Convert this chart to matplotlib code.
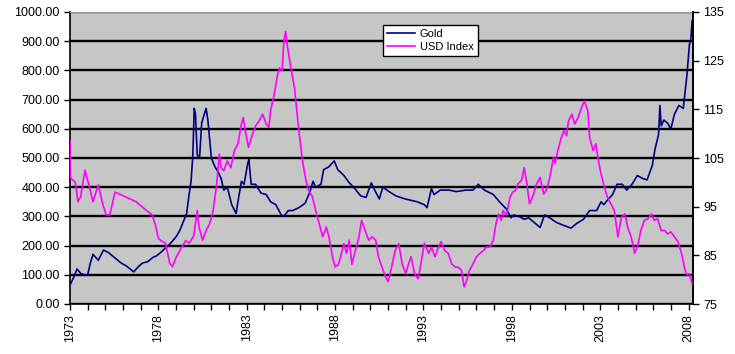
import matplotlib
matplotlib.use("Agg")
import matplotlib.pyplot as plt
from matplotlib.ticker import FormatStrFormatter, MultipleLocator, FixedLocator

plt.rcParams['font.family'] = ['Liberation Sans', 'DejaVu Sans']

gold_years = [1973.0, 1973.2, 1973.4, 1973.6, 1973.8, 1974.0, 1974.15, 1974.3, 1974.6, 1974.9,
              1975.2, 1975.6, 1975.9, 1976.2, 1976.6, 1976.9, 1977.1, 1977.4, 1977.7, 1977.9,
              1978.2, 1978.45, 1978.65, 1979.0, 1979.2, 1979.4, 1979.6, 1979.75, 1979.85, 1979.95,
              1980.03, 1980.1, 1980.2, 1980.33, 1980.45, 1980.55, 1980.7, 1980.8, 1981.0, 1981.2,
              1981.4, 1981.55, 1981.7, 1981.9, 1982.15, 1982.4, 1982.5, 1982.7, 1982.85, 1983.05,
              1983.12, 1983.25, 1983.5, 1983.8, 1984.1, 1984.35, 1984.65, 1984.95, 1985.1, 1985.35,
              1985.6, 1985.95, 1986.3, 1986.55, 1986.75, 1986.9, 1987.2, 1987.35, 1987.65, 1987.95,
              1988.15, 1988.5, 1988.8, 1989.05, 1989.45, 1989.75, 1990.05, 1990.2, 1990.5, 1990.7,
              1991.05, 1991.45, 1991.95, 1992.3, 1992.65, 1993.05, 1993.2, 1993.45, 1993.6, 1993.95,
              1994.45, 1994.85, 1995.4, 1995.8, 1996.1, 1996.45, 1996.95, 1997.3, 1997.7, 1997.95,
              1998.1, 1998.4, 1998.7, 1998.95, 1999.35, 1999.6, 1999.85, 2000.15, 2000.5, 2000.9,
              2001.35, 2001.65, 2002.05, 2002.4, 2002.8, 2003.05, 2003.2, 2003.4, 2003.7, 2003.95,
              2004.25, 2004.5, 2004.8, 2005.1, 2005.4, 2005.65, 2005.95, 2006.1, 2006.3, 2006.38,
              2006.45, 2006.6, 2006.8, 2007.0, 2007.2, 2007.45, 2007.7, 2007.9, 2008.05, 2008.12,
              2008.2]
gold_values = [65, 90, 120, 105, 100, 100, 140, 170, 150, 185,
               175, 155, 140, 130, 110, 130, 140, 145, 160, 165,
               180, 195, 205, 230, 250, 280, 310, 380, 420, 510,
               670, 650, 510, 500, 620, 640, 670, 630, 500, 470,
               450, 430, 390, 400, 340, 310, 350, 420, 410, 480,
               495, 410, 410, 380, 375, 350, 340, 305, 300, 320,
               320, 330, 345, 380, 420, 400, 410, 460, 470, 490,
               460, 440, 415, 400, 370, 365, 415, 395, 360, 400,
               385, 370, 360, 355, 350, 340, 330, 395, 375, 390,
               390, 385, 390, 390, 410, 390, 375, 350, 325, 295,
               305, 300, 290, 295, 275, 262, 305, 295, 280, 270,
               260, 275, 290, 320, 320, 350, 340, 355, 375, 410,
               410, 390, 410, 440, 430, 425, 475, 530, 580, 680,
               610, 630, 620, 600, 650, 680, 670, 780, 890, 900,
               970]

usd_years = [1973.0, 1973.02, 1973.15, 1973.3, 1973.45, 1973.6, 1973.85, 1974.1, 1974.3, 1974.6,
             1974.85, 1975.05, 1975.25, 1975.55, 1975.85, 1976.15, 1976.45, 1976.75, 1977.0, 1977.4,
             1977.65, 1977.85, 1978.0, 1978.15, 1978.4, 1978.65, 1978.8, 1979.0, 1979.3, 1979.55,
             1979.75, 1980.0, 1980.2, 1980.3, 1980.5, 1980.7, 1980.9, 1981.1, 1981.3, 1981.45,
             1981.55, 1981.7, 1981.9, 1982.1, 1982.3, 1982.5, 1982.7, 1982.8, 1982.95, 1983.1,
             1983.3, 1983.5, 1983.7, 1983.9, 1984.1, 1984.25, 1984.35, 1984.55, 1984.75, 1984.85,
             1985.0, 1985.1, 1985.2, 1985.3, 1985.5, 1985.7, 1985.8, 1985.95, 1986.15, 1986.35,
             1986.5, 1986.7, 1986.9, 1987.1, 1987.3, 1987.5, 1987.65, 1987.85, 1988.0, 1988.2,
             1988.5, 1988.65, 1988.8, 1988.95, 1989.15, 1989.35, 1989.5, 1989.7, 1989.9, 1990.1,
             1990.3, 1990.45, 1990.65, 1990.85, 1991.0, 1991.2, 1991.4, 1991.6, 1991.8, 1992.0,
             1992.15, 1992.3, 1992.5, 1992.7, 1992.85, 1993.05, 1993.3, 1993.45, 1993.65, 1993.85,
             1994.0, 1994.2, 1994.4, 1994.6, 1994.8, 1994.95, 1995.15, 1995.3, 1995.45, 1995.6,
             1995.8, 1996.0, 1996.2, 1996.4, 1996.55, 1996.75, 1996.95, 1997.1, 1997.25, 1997.4,
             1997.5, 1997.7, 1997.9, 1998.05, 1998.2, 1998.35, 1998.55, 1998.7, 1998.85, 1999.0,
             1999.2, 1999.4, 1999.6, 1999.8, 1999.95, 2000.15, 2000.35, 2000.45, 2000.6, 2000.8,
             2000.95, 2001.1, 2001.2, 2001.4, 2001.55, 2001.75, 2001.95, 2002.1, 2002.3, 2002.4,
             2002.6, 2002.75, 2002.9, 2003.05, 2003.25, 2003.4, 2003.6, 2003.8, 2004.0, 2004.2,
             2004.4, 2004.55, 2004.75, 2004.95, 2005.15, 2005.3, 2005.5, 2005.7, 2005.9, 2006.05,
             2006.25, 2006.45, 2006.65, 2006.8, 2007.0, 2007.2, 2007.4, 2007.6, 2007.8, 2007.9,
             2008.05, 2008.2]
usd_values = [108.5, 101, 100.5, 100, 96, 97, 102.5, 99, 96, 99.5,
              95.5, 93.3, 93.3, 98, 97.5, 97, 96.5, 96, 95.2, 94,
              93.3, 91, 88.5, 88, 87.5, 83.3, 82.7, 84.5, 86.6, 88,
              87.5, 89, 94.2, 90.8, 88.1, 90.1, 91.5, 94.2, 99.7, 105.8,
              103, 102.4, 104.4, 103, 106.5, 107.9, 112, 113.3, 110, 107.2,
              109.6, 111.6, 112.6, 114, 112, 111.3, 114.7, 118, 122.2, 123.5,
              122.9, 129, 131, 128, 123.5, 119.5, 116, 110.6, 104.5, 100.4,
              98.3, 97.2, 94.2, 91.5, 88.8, 90.8, 88.8, 84.7, 82.6, 83.2,
              87.4, 85.4, 88.1, 83.2, 86, 88.8, 92.2, 90.1, 88.1, 88.8,
              88.1, 84.7, 82.6, 80.6, 79.6, 82.6, 86, 87.4, 83.2, 81.2,
              83.2, 84.7, 81.2, 80.2, 83.2, 87.5, 85.4, 86.7, 84.7, 86.7,
              87.8, 86, 85.4, 83.2, 82.6, 82.6, 81.9, 78.5, 79.9, 81.9,
              83.2, 84.7, 85.4, 86, 86.7, 86.7, 88.1, 91.5, 93.5, 92.2,
              94.2, 93.3, 97, 98, 98.3, 99.7, 100.4, 103, 99.7, 95.6,
              97.2, 99.7, 101, 97.6, 98.3, 101, 105.1, 103.9, 106.5, 109.2,
              110.6, 109.6, 112.6, 114, 112, 113.3, 115.4, 116.7, 114.7, 109.2,
              106.5, 107.9, 104.4, 101.7, 98.8, 97, 95.6, 94.2, 88.8, 92.9,
              93.5, 90.8, 88.8, 85.4, 87.4, 90.1, 92.2, 92.5, 93.5, 92.2,
              92.5, 90.1, 90.1, 89.4, 89.8, 88.8, 87.8, 85.4, 82, 81,
              81.2, 79.2]

year_ticks = list(range(1973, 2009))
year_labels = [str(y) if (y - 1973) % 5 == 0 else "" for y in year_ticks]
usd_ticks = [75, 85, 95, 105, 115, 125, 135]

fig = plt.figure(figsize=(7.35, 3.54), dpi=100)
ax = fig.add_axes([70/735, 50/354, 623/735, 292/354])
ax.set_facecolor('#c6c6c6')

ax.plot(gold_years, gold_values, color='#000080', lw=1.2, label='Gold', zorder=3)
ax.set_xlim(1973, 2008.25)
ax.set_ylim(0, 1000)
ax.yaxis.set_major_locator(MultipleLocator(100))
ax.yaxis.set_major_formatter(FormatStrFormatter('%.2f'))
ax.xaxis.set_major_locator(FixedLocator(year_ticks))
ax.set_xticklabels(year_labels, rotation=90)
ax.grid(axis='y', color='black', lw=1.7, zorder=1)
ax.set_axisbelow(True)
for gl in ax.yaxis.get_gridlines()[-1:]:
    gl.set_visible(False)
ax.tick_params(axis='both', direction='out', length=4, width=1, labelsize=9, colors='black')
ax.tick_params(axis='x', pad=3)
for s in ['left', 'bottom', 'right']:
    ax.spines[s].set_color('black')
    ax.spines[s].set_linewidth(1.2)
ax.spines['top'].set_color('#9a9a9a')

ax2 = ax.twinx()
ax2.plot(usd_years, usd_values, color='#ff00ff', lw=1.2, label='USD Index', zorder=3)
ax2.set_ylim(75, 135)
ax2.yaxis.set_major_locator(FixedLocator(usd_ticks))
ax2.tick_params(axis='y', direction='out', length=4, width=1, labelsize=9, colors='black')
ax2.spines['right'].set_color('black')
ax2.spines['right'].set_linewidth(1.2)
ax2.spines['top'].set_visible(False)
ax2.spines['left'].set_visible(False)
ax2.spines['bottom'].set_visible(False)

h1, l1 = ax.get_legend_handles_labels()
h2, l2 = ax2.get_legend_handles_labels()
leg = ax2.legend(h1 + h2, l1 + l2, loc='upper left', bbox_to_anchor=(0.493, 0.975),
                 fontsize=8, frameon=True, fancybox=False, framealpha=1,
                 edgecolor='black', handlelength=2.6, borderpad=0.35,
                 labelspacing=0.3, handletextpad=0.4)
leg.get_frame().set_linewidth(1.0)

fig.savefig('out.png', dpi=100)
